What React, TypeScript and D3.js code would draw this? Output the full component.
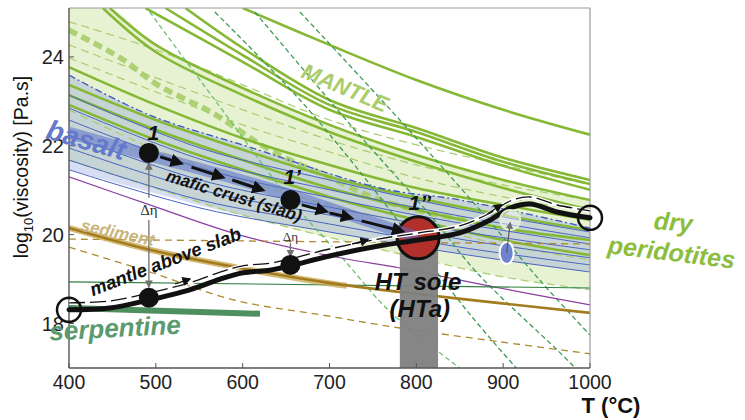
import * as d3 from "d3";

type Pt = [number, number];

const tempTicks = [400, 500, 600, 700, 800, 900, 1000];
const viscTicks = [18, 20, 22, 24];

// dry peridotite flow laws (solid green)
const mantleSolid: Pt[][] = [
  [[600, 25.1], [700, 24.27], [800, 23.48], [900, 22.81], [1000, 22.25]],
  [[534, 25.1], [600, 24.2], [700, 23.03], [800, 22.4], [900, 21.73], [1000, 21.23]],
  [[511, 25.1], [600, 24.04], [700, 22.92], [800, 22.31], [900, 21.64], [1000, 21.14]],
  [[488, 25.1], [600, 23.89], [700, 22.81], [800, 22.2], [900, 21.55], [1000, 21.01]],
  [[447, 25.1], [500, 24.27], [600, 23.3], [700, 22.47], [800, 21.79], [900, 21.23], [1000, 20.78]],
  [[439, 25.1], [500, 24.11], [600, 23.14], [700, 22.31], [800, 21.64], [900, 21.05], [1000, 20.56]],
  [[400, 23.77], [500, 22.92], [600, 22.17], [700, 21.57], [800, 21.05], [900, 20.67], [1000, 20.33]],
  [[400, 23.37], [500, 22.58], [600, 21.91], [700, 21.3], [800, 20.83], [900, 20.44], [1000, 20.1]],
  [[400, 23.14], [500, 22.36], [600, 21.68], [700, 21.05], [800, 20.56], [900, 20.15], [1000, 19.88]],
  [[400, 22.92], [500, 22.13], [600, 21.46], [700, 20.85], [800, 20.33], [900, 19.88], [1000, 19.54]],
];

// other mantle laws (thin light dashed)
const mantleDashed: Pt[][] = [
  [[400, 24.79], [500, 24.16], [600, 23.37], [700, 22.58], [800, 22.02], [900, 21.57], [1000, 21.12]],
  [[400, 24.27], [500, 23.53], [600, 22.81], [700, 22.13], [800, 21.57], [900, 21.12], [1000, 20.78]],
  [[400, 23.98], [500, 23.21], [600, 22.47], [700, 21.86], [800, 21.28], [900, 20.85], [1000, 20.51]],
  [[400, 22.81], [500, 21.91], [600, 21.23], [700, 20.67], [800, 20.22], [900, 19.77], [1000, 19.43]],
  [[400, 21.68], [600, 20.44], [800, 19.48], [900, 19.05], [1000, 18.76]],
];

const mantleMean: Pt[] = [
  [400, 24.6], [459, 23.98], [502, 23.37], [565, 22.74], [631, 21.91],
  [701, 21.28], [758, 20.78], [827, 20.44], [873, 20.29],
];

const mantleFillTop: Pt[] = [
  [400, 25.1], [447, 25.1], [500, 24.27], [600, 23.3], [700, 22.47], [800, 21.79], [900, 21.23], [1000, 20.78],
];
const mantleFillBottom: Pt[] = [[400, 21.68], [600, 20.44], [800, 19.48], [900, 19.05], [1000, 18.76]];

// steep dashed laws
const steepDashed: Pt[][] = [
  [[493, 25.01], [568, 23.03], [655, 20.78], [712, 19.54], [770, 18.26], [850, 17.0]],
  [[568, 25.01], [666, 23.03], [747, 21.12], [804, 19.66], [862, 18.2], [915, 17.0]],
  [[614, 25.01], [729, 22.36], [816, 20.44], [870, 19.14], [962, 17.41], [983, 17.0]],
  [[666, 25.01], [781, 22.58], [873, 20.56], [942, 18.98], [1000, 17.74]],
];

// basalt
const basaltTop: Pt[] = [[400, 23.59], [493, 22.69], [608, 21.97], [758, 21.05], [850, 20.78], [1000, 20.15]];
const basaltBottom: Pt[] = [[400, 21.46], [597, 20.44], [700, 20.06], [793, 19.77], [896, 19.43], [1000, 19.16]];
const basaltLines: Pt[][] = [
  [[400, 23.14], [551, 21.95], [700, 21.23], [850, 20.58], [1000, 20.06]],
  [[400, 22.85], [551, 21.7], [700, 21.01], [850, 20.42], [1000, 19.93]],
  [[400, 22.58], [551, 21.5], [700, 20.83], [850, 20.26], [1000, 19.79]],
  [[400, 22.24], [551, 21.23], [700, 20.62], [850, 20.08], [1000, 19.66]],
  [[400, 21.95], [551, 21.01], [700, 20.44], [850, 19.9], [1000, 19.48]],
  [[400, 21.68], [551, 20.78], [700, 20.24], [850, 19.72], [1000, 19.32]],
  [[400, 21.46], [551, 20.6], [700, 20.06], [850, 19.57], [1000, 19.16]],
];
const basaltBand: Pt[] = [[400, 22.29], [492, 21.79], [597, 21.23], [655, 20.89], [724, 20.44], [802, 19.93]];

const purpleLaw: Pt[] = [[400, 21.3], [493, 20.67], [597, 19.99], [712, 19.48], [781, 19.25], [896, 18.8], [1000, 18.42]];

const sediment: Pt[] = [[400, 20.15], [493, 19.66], [597, 19.25], [701, 18.91], [781, 18.71], [896, 18.46], [1000, 18.24]];
const sedimentThick: Pt[] = [[400, 20.15], [493, 19.66], [597, 19.25], [701, 18.9], [720, 18.85]];
const sedimentDashed: Pt[][] = [
  [[400, 19.9], [700, 19.84], [1000, 19.79]],
  [[400, 19.72], [493, 19.16], [590, 18.53], [689, 18.2], [781, 17.9], [896, 17.59], [1000, 17.32]],
];

const greenFlat: Pt[] = [[400, 18.94], [1000, 18.8]];
const serpentine: Pt[] = [[400, 18.35], [620, 18.22]];

// viscosity path of the mantle above the slab
const slabTopPath: Pt[] = [
  [400, 18.31], [447, 18.35], [492, 18.53], [539, 18.76], [574, 19.0], [600, 19.14], [631, 19.2],
  [655, 19.3], [700, 19.52], [758, 19.75], [802, 19.88], [850, 20.04], [885, 20.33], [908, 20.6],
  [931, 20.69], [962, 20.51], [1000, 20.38],
];
const pathArrows: [Pt, Pt][] = [
  [[522, 18.89], [539, 19.0]],
  [[726, 19.79], [744, 19.88]],
  [[882, 20.47], [898, 20.67]],
];
const maficArrows: [Pt, Pt][] = [
  [[505, 21.75], [528, 21.61]],
  [[541, 21.52], [576, 21.3]],
  [[588, 21.23], [622, 21.01]],
  [[668, 20.67], [695, 20.53]],
  [[700, 20.49], [724, 20.38]],
  [[737, 20.31], [783, 20.08]],
];

const openDots: Pt[] = [[400, 18.31], [1000, 20.38]];
const filledDots: Pt[] = [[492, 21.84], [655, 20.78], [492, 18.58], [655, 19.32]];
const htSole: Pt = [802, 19.93];
const htBar = { t0: 781, t1: 825, top: 19.8 };
const deltaArrows: [Pt, Pt][] = [
  [[492, 20.83], [492, 21.6]],
  [[492, 20.33], [492, 18.83]],
  [[655, 19.82], [655, 19.52]],
];
const drySample: Pt = [908, 20.33];
const basaltSample: Pt = [904, 19.59];

const labels = [
  { text: "MANTLE", t: 718, v: 23.3, size: 22, color: "#aacd6c", rot: 23 },
  { text: "basalt", t: 420, v: 22.13, size: 28, color: "#6478cc", rot: 16 },
  { text: "mafic crust (slab)", t: 590, v: 20.87, size: 17, color: "#111", rot: 17 },
  { text: "mantle above slab", t: 511, v: 19.4, size: 18.5, color: "#111", rot: -21 },
  { text: "sediment", t: 456, v: 20.04, size: 17, color: "#c9b57c", rot: 12 },
  { text: "serpentine", t: 453, v: 17.9, size: 26, color: "#5b9a6e", rot: -3 },
  { text: "HT sole", t: 802, v: 18.94, size: 24, color: "#111", rot: 0 },
  { text: "(HTa)", t: 804, v: 18.33, size: 24, color: "#111", rot: 0 },
  { text: "1", t: 497, v: 22.29, size: 21, color: "#111", rot: 0 },
  { text: "1’", t: 657, v: 21.3, size: 21, color: "#111", rot: 0 },
  { text: "1’’", t: 804, v: 20.73, size: 21, color: "#111", rot: 0 },
  { text: "dry", t: 1096, v: 20.29, size: 25, color: "#8cbd3e", rot: 5 },
  { text: "peridotites", t: 1094, v: 19.61, size: 25, color: "#8cbd3e", rot: 7 },
];
const deltaLabels = [
  { t: 492, v: 20.56, size: 15 },
  { t: 655, v: 19.97, size: 13 },
];

export default function App() {
  const x = d3.scaleLinear().domain([400, 1000]).range([69, 590]);
  const y = d3.scaleLinear().domain([17, 25.1]).range([368, 8]);
  const line = d3
    .line<Pt>()
    .x(d => x(d[0]))
    .y(d => y(d[1]))
    .curve(d3.curveCatmullRom.alpha(0.5));
  const band = (top: Pt[], bottom: Pt[]) =>
    line(top)! + line([...bottom].reverse())!.replace(/^M/, "L") + "Z";

  const [x0, x1] = x.range();
  const [yb, yt] = y.range();
  const font = "'Liberation Sans', Arial, sans-serif";

  return (
    <svg
      width={745}
      height={420}
      style={{ position: "fixed", left: 0, top: 0, background: "#fff" }}
      fontFamily={font}
    >
      <defs>
        <clipPath id="plot">
          <rect x={x0} y={yt} width={x1 - x0} height={yb - yt} />
        </clipPath>
        <marker id="ah" viewBox="0 0 10 10" refX="7" refY="5" markerWidth="4.5" markerHeight="4.5" orient="auto">
          <path d="M0,0L10,5L0,10z" fill="#111" />
        </marker>
        <marker id="ahThin" viewBox="0 0 10 10" refX="8" refY="5" markerWidth="7" markerHeight="7" orient="auto">
          <path d="M0,0L10,5L0,10z" fill="#111" />
        </marker>
        <marker id="ahGray" viewBox="0 0 10 10" refX="8" refY="5" markerWidth="6" markerHeight="6" orient="auto">
          <path d="M0,0L10,5L0,10z" fill="#707070" />
        </marker>
      </defs>

      <g clipPath="url(#plot)" fill="none">
        <path d={band(mantleFillTop, mantleFillBottom)} fill="#cfe6a8" opacity={0.5} />
        <path d={band(basaltTop, basaltBottom)} fill="#8494da" opacity={0.32} />

        {mantleDashed.map((d, i) => (
          <path key={"md" + i} d={line(d)!} stroke="#a9cd6e" strokeWidth={1.2} strokeDasharray="8,5" />
        ))}
        <path d={line(mantleMean)!} stroke="#a6cd68" strokeWidth={5.5} strokeDasharray="9,5" opacity={0.9} />

        {mantleSolid.map((d, i) => (
          <path key={"ms" + i} d={line(d)!} stroke="#85b935" strokeWidth={2.6} />
        ))}

        {basaltLines.map((d, i) => (
          <path key={"bl" + i} d={line(d)!} stroke="#4863c2" strokeWidth={1} />
        ))}
        <path d={line(basaltTop)!} stroke="#3d55c0" strokeWidth={1.3} strokeDasharray="7,3,2,3" />

        {steepDashed.map((d, i) => (
          <path key={"sd" + i} d={line(d)!} stroke={i === 0 ? "#6cc070" : "#3f9a55"} strokeWidth={1.3} strokeDasharray="5,3" />
        ))}

        <path d={line(purpleLaw)!} stroke="#8b3fa0" strokeWidth={1.2} />
        {sedimentDashed.map((d, i) => (
          <path key={"sed" + i} d={line(d)!} stroke="#b08a30" strokeWidth={1.3} strokeDasharray="7,5" />
        ))}
        <path d={line(greenFlat)!} stroke="#2d7d3c" strokeWidth={1.2} />
        <path d={line(sedimentThick)!} stroke="#c8a550" strokeWidth={6} opacity={0.75} />
        <path d={line(sediment)!} stroke="#a27c1e" strokeWidth={2.6} />
        <path d={line(serpentine)!} stroke="#4e8f60" strokeWidth={6} />

        <rect
          x={x(htBar.t0)}
          y={y(htBar.top)}
          width={x(htBar.t1) - x(htBar.t0)}
          height={y(17) - y(htBar.top)}
          fill="#808080"
          opacity={0.95}
        />
      </g>

      {/* frame */}
      <g fill="none">
        <line x1={x0} x2={x1} y1={yt} y2={yt} stroke="#999" strokeWidth={1.2} />
        <line x1={x1} x2={x1} y1={yt} y2={yb} stroke="#999" strokeWidth={1.2} />
        <line x1={x0} x2={x0} y1={yt} y2={yb} stroke="#555" strokeWidth={1.4} />
        <line x1={x0} x2={x1} y1={yb} y2={yb} stroke="#555" strokeWidth={1.4} />
        {tempTicks.map(t => (
          <line key={"xt" + t} x1={x(t)} x2={x(t)} y1={yb} y2={yb - 5} stroke="#555" />
        ))}
        {viscTicks.map(v => (
          <line key={"yt" + v} x1={x0} x2={x0 + 5} y1={y(v)} y2={y(v)} stroke="#555" />
        ))}
      </g>
      {tempTicks.map(t => (
        <text key={"xl" + t} x={x(t)} y={yb + 21} textAnchor="middle" fontSize={19.5} fill="#222">
          {t}
        </text>
      ))}
      {viscTicks.map(v => (
        <text key={"yl" + v} x={x0 - 5} y={y(v)} textAnchor="end" dominantBaseline="central" fontSize={20} fill="#222">
          {v}
        </text>
      ))}
      <text transform="translate(28,167) rotate(-90)" textAnchor="middle" fontSize={19.5} fill="#111">
        log
        <tspan fontSize={13} dy={5}>10</tspan>
        <tspan dy={-5}>(viscosity) [Pa.s]</tspan>
      </text>
      <text x={611} y={413} textAnchor="middle" fontSize={22} fontWeight="bold" fill="#111">
        T (°C)
      </text>

      {/* HT sole and trajectories */}
      <circle cx={x(htSole[0])} cy={y(htSole[1])} r={21} fill="#b2302b" stroke="#111" strokeWidth={3} />
      <path d={line(basaltBand)!} stroke="#5a6fc8" strokeWidth={12} opacity={0.55} fill="none" />

      <g fill="none">
        <path d={line(slabTopPath)!} stroke="#fff" strokeWidth={4} transform="translate(0,-7)" />
        <path d={line(slabTopPath)!} stroke="#111" strokeWidth={1.3} strokeDasharray="16,5" transform="translate(0,-7)" />
        <path d={line(slabTopPath)!} stroke="#111" strokeWidth={5} strokeLinecap="round" />
        {pathArrows.map(([a, b], i) => (
          <line key={"pa" + i} x1={x(a[0])} y1={y(a[1])} x2={x(b[0])} y2={y(b[1])} stroke="#111" strokeWidth={1.3} markerEnd="url(#ahThin)" />
        ))}
        {maficArrows.map(([a, b], i) => (
          <line key={"ma" + i} x1={x(a[0])} y1={y(a[1])} x2={x(b[0])} y2={y(b[1])} stroke="#111" strokeWidth={3} markerEnd="url(#ah)" />
        ))}
        {deltaArrows.map(([a, b], i) => (
          <line key={"da" + i} x1={x(a[0])} y1={y(a[1])} x2={x(b[0])} y2={y(b[1])} stroke="#707070" strokeWidth={1.3} markerEnd="url(#ahGray)" />
        ))}
      </g>

      <circle cx={x(drySample[0])} cy={y(drySample[1])} r={10} fill="#fff" fillOpacity={0.45} stroke="#dfeccb" strokeWidth={2} />
      <ellipse cx={x(basaltSample[0])} cy={y(basaltSample[1])} rx={7} ry={11} fill="#6f84d0" stroke="#fff" strokeWidth={2} />
      <line
        x1={x(basaltSample[0])}
        y1={y(basaltSample[1])}
        x2={x(drySample[0])}
        y2={y(drySample[1]) + 3}
        stroke="#555"
        strokeWidth={1.2}
        markerEnd="url(#ahGray)"
      />

      {openDots.map((d, i) => (
        <circle key={"od" + i} cx={x(d[0])} cy={y(d[1])} r={12} fill="none" stroke="#111" strokeWidth={2.5} />
      ))}
      {filledDots.map((d, i) => (
        <circle key={"fd" + i} cx={x(d[0])} cy={y(d[1])} r={10} fill="#111" />
      ))}

      {labels.map(l => (
        <text
          key={l.text}
          x={x(l.t)}
          y={y(l.v)}
          transform={`rotate(${l.rot},${x(l.t)},${y(l.v)})`}
          textAnchor="middle"
          dominantBaseline="central"
          fontSize={l.size}
          fontWeight="bold"
          fontStyle="italic"
          fill={l.color}
        >
          {l.text}
        </text>
      ))}
      {deltaLabels.map((l, i) => (
        <text
          key={"dl" + i}
          x={x(l.t)}
          y={y(l.v)}
          textAnchor="middle"
          dominantBaseline="central"
          fontSize={l.size}
          fontFamily="'Liberation Serif', 'DejaVu Serif', serif"
          fill="#333"
        >
          Δη
        </text>
      ))}
    </svg>
  );
}
